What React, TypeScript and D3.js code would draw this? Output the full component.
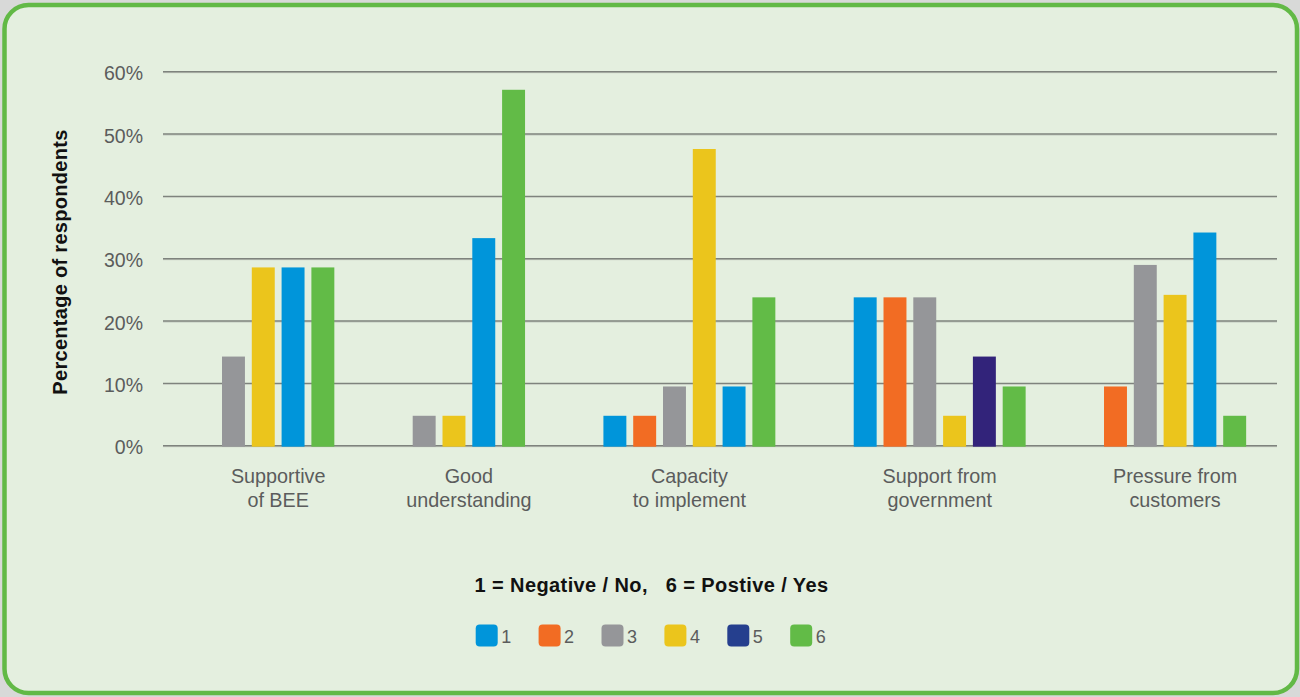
import React from "react";
import * as d3 from "d3";

// Survey results: share of respondents per rating (1 = negative, 6 = positive)
const categories = [
  ["Supportive", "of BEE"],
  ["Good", "understanding"],
  ["Capacity", "to implement"],
  ["Support from", "government"],
  ["Pressure from", "customers"],
];
const ratings = ["1", "2", "3", "4", "5", "6"];

// percentage values per category, in rating order 1..6 (0 = no bar)
const supportiveOfBEE = [0, 0, 14.3, 28.6, 28.6, 28.6];
const goodUnderstanding = [0, 0, 4.8, 4.8, 33.3, 57.1];
const capacityToImplement = [4.8, 4.8, 9.5, 47.6, 9.5, 23.8];
const supportFromGovernment = [23.8, 23.8, 23.8, 4.8, 14.3, 9.5];
const pressureFromCustomers = [0, 9.5, 29.0, 24.2, 34.2, 4.8];
const values = [
  supportiveOfBEE,
  goodUnderstanding,
  capacityToImplement,
  supportFromGovernment,
  pressureFromCustomers,
];

const yTicks = [0, 10, 20, 30, 40, 50, 60];

const ratingColors = ["#0095da", "#f26c23", "#959699", "#ebc51c", "#253f8e", "#62bb47"];
// rating 5 bars are printed in blue except in the government group
const rating5BarColors = ["#0095da", "#0095da", "#0095da", "#32237a", "#0095da"];

const W = 1300;
const H = 697;
const textGray = "#5b5c5c";
const font = "'Liberation Sans', Arial, Helvetica, sans-serif";

// Bars are laid out one after another (only non-zero ratings), with a
// fixed gap between groups, measured in bar slots.
const GAP_SLOTS = 2.4;
const BAR_FRACTION = 0.77;

export default function App() {
  const y = d3.scaleLinear().domain([0, 60]).range([445.7, 71.7]);
  const gridX0 = 163;
  const gridX1 = 1277;

  // slot positions of every drawn bar
  const groups: { ci: number; bars: { ri: number; slot: number }[] }[] = [];
  let barCount = 0;
  values.forEach((row, ci) => {
    const bars: { ri: number; slot: number }[] = [];
    row.forEach((v, ri) => {
      if (v > 0) {
        bars.push({ ri, slot: barCount + ci * GAP_SLOTS });
        barCount += 1;
      }
    });
    groups.push({ ci, bars });
  });
  const totalSlots = barCount + (values.length - 1) * GAP_SLOTS;
  const x = d3.scaleLinear().domain([0, totalSlots]).range([222, 1253]);
  const slotW = x(1) - x(0);
  const barW = slotW * BAR_FRACTION;

  const legendStep = 62.9;
  const legendX0 = 475.7;

  return (
    <svg
      width={W}
      height={H}
      style={{ position: "absolute", left: 0, top: 0, display: "block" }}
      fontFamily={font}
    >
      <rect x={0} y={0} width={W} height={H} fill="#d8d9d8" />
      <rect
        x={4.5}
        y={5}
        width={1292.5}
        height={688}
        rx={24}
        ry={24}
        fill="#e4efdf"
        stroke="#62b946"
        strokeWidth={4.5}
      />

      {/* gridlines and y tick labels */}
      {yTicks.map((t) => (
        <g key={t}>
          <line
            x1={gridX0}
            x2={gridX1}
            y1={y(t) + 1}
            y2={y(t) + 1}
            stroke="#c4cbc1"
            strokeWidth={1}
          />
          <line x1={gridX0} x2={gridX1} y1={y(t)} y2={y(t)} stroke="#7e837d" strokeWidth={1.4} />
          <text x={143} y={y(t) + 8.5} textAnchor="end" fontSize={19.5} fill={textGray}>
            {t}%
          </text>
        </g>
      ))}

      <text
        transform={`translate(66.5, 262) rotate(-90)`}
        textAnchor="middle"
        fontSize={20}
        fontWeight="bold"
        letterSpacing={0.3}
        fill="#111"
      >
        Percentage of respondents
      </text>

      {/* bars and category labels */}
      {groups.map(({ ci, bars }) => {
        const row = values[ci];
        const left = x(bars[0].slot);
        const right = x(bars[bars.length - 1].slot) + barW;
        const center = (left + right) / 2;
        return (
          <g key={ci}>
            {bars.map(({ ri, slot }) => (
              <rect
                key={ri}
                x={x(slot)}
                y={y(row[ri])}
                width={barW}
                height={y(0) - y(row[ri]) + 1}
                fill={ri === 4 ? rating5BarColors[ci] : ratingColors[ri]}
              />
            ))}
            {categories[ci].map((line, li) => (
              <text
                key={li}
                x={center}
                y={482.5 + li * 24}
                textAnchor="middle"
                fontSize={19.8}
                fill={textGray}
              >
                {line}
              </text>
            ))}
          </g>
        );
      })}

      {/* legend */}
      <text
        x={651.5}
        y={591.7}
        textAnchor="middle"
        fontSize={20}
        fontWeight="bold"
        letterSpacing={0.4}
        fill="#111"
        style={{ whiteSpace: "pre" }}
      >
        {"1 = Negative / No,   6 = Postive / Yes"}
      </text>
      {ratings.map((r, i) => (
        <g key={r} transform={`translate(${legendX0 + i * legendStep}, 624.5)`}>
          <rect width={22} height={22} rx={4} ry={4} fill={ratingColors[i]} />
          <text x={25.5} y={18.5} fontSize={18} fill={textGray}>
            {r}
          </text>
        </g>
      ))}
    </svg>
  );
}
